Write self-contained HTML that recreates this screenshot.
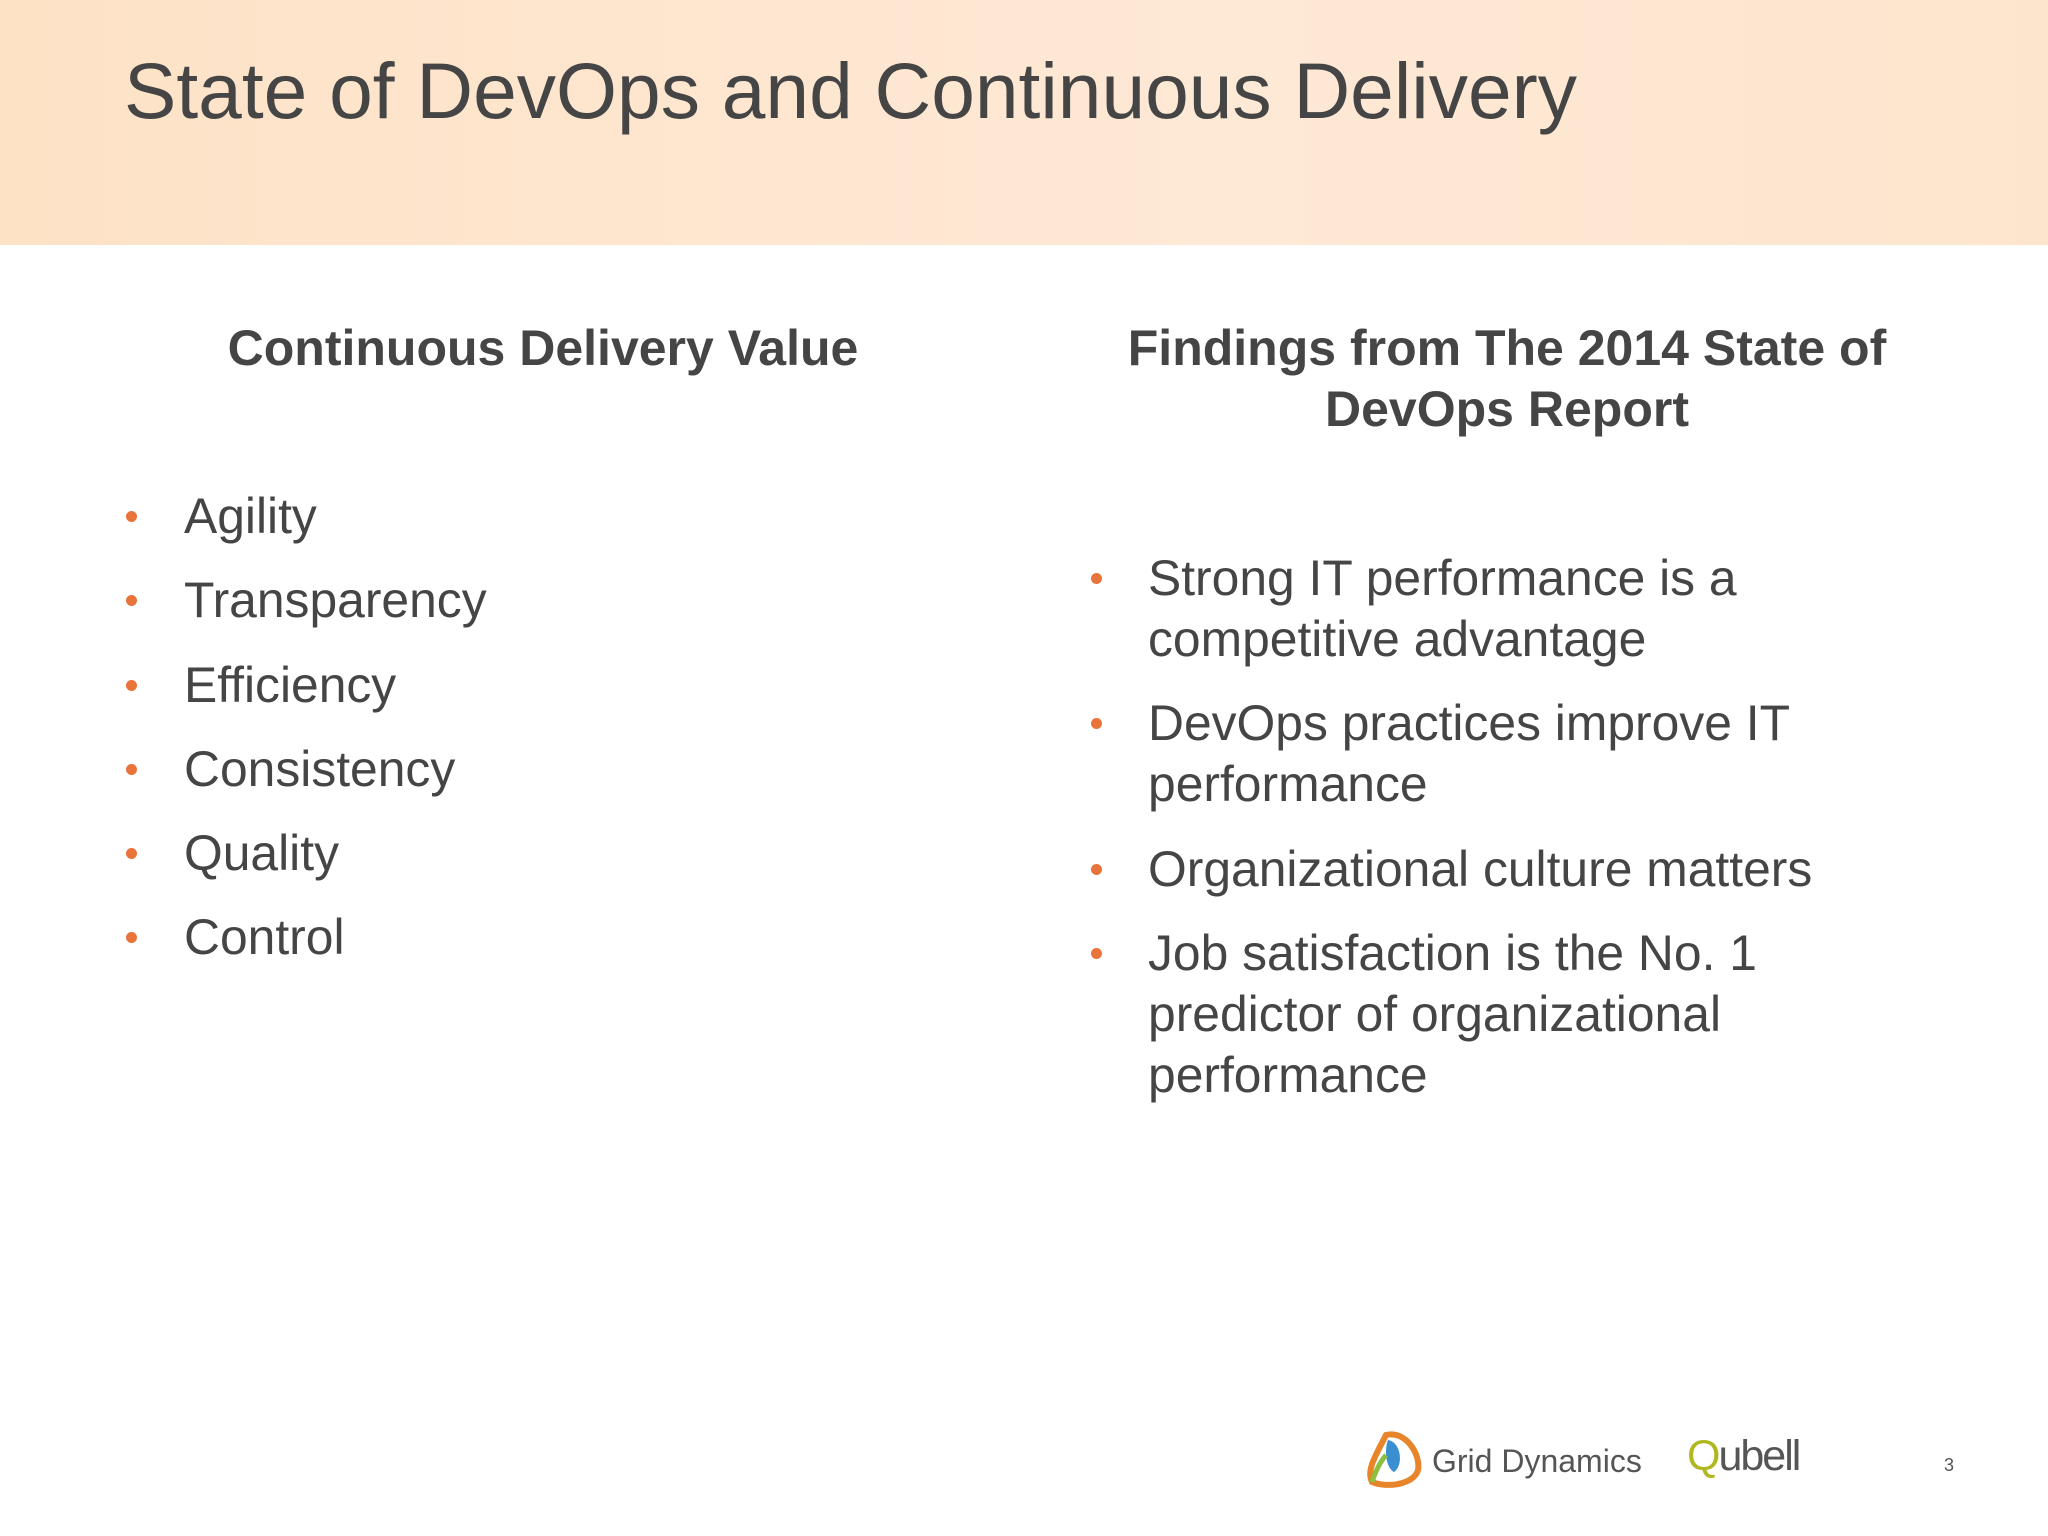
<!DOCTYPE html>
<html><head><meta charset="utf-8"><style>
html,body{margin:0;padding:0}
body{width:2048px;height:1536px;position:relative;background:#fff;font-family:"Liberation Sans",Arial,sans-serif;color:#454545;overflow:hidden}
.band{position:absolute;left:0;top:0;width:2048px;height:245px;background:linear-gradient(90deg,#fde2c6,#fee9d6 60%,#fde5cd)}
.title{position:absolute;left:124px;top:41px;font-size:78.5px;line-height:100px;white-space:nowrap}
.h{position:absolute;font-weight:bold;font-size:50px;line-height:61px;text-align:center}
.t{position:absolute;font-size:49.8px;line-height:61px;white-space:nowrap}
.dot{position:absolute;width:11px;height:11px;border-radius:50%;background:#e8743b}
</style></head><body>
<div class="band"></div>
<div class="title">State of DevOps and Continuous Delivery</div>
<div class="h" style="left:143px;width:800px;top:318px">Continuous Delivery Value</div>
<div class="h" style="left:1007px;width:1000px;top:318px">Findings from The 2014 State of<br>DevOps Report</div>

<div>
<div class="dot" style="left:126px;top:511px"></div><div class="t" style="left:184px;top:486px">Agility</div>
<div class="dot" style="left:126px;top:595px"></div><div class="t" style="left:184px;top:570px">Transparency</div>
<div class="dot" style="left:126px;top:680px"></div><div class="t" style="left:184px;top:655px">Efficiency</div>
<div class="dot" style="left:126px;top:764px"></div><div class="t" style="left:184px;top:739px">Consistency</div>
<div class="dot" style="left:126px;top:848px"></div><div class="t" style="left:184px;top:823px">Quality</div>
<div class="dot" style="left:126px;top:932px"></div><div class="t" style="left:184px;top:907px">Control</div>
</div>

<div>
<div class="dot" style="left:1091px;top:573px"></div><div class="t" style="left:1148px;top:548px">Strong IT performance is a<br>competitive advantage</div>
<div class="dot" style="left:1091px;top:718px"></div><div class="t" style="left:1148px;top:693px">DevOps practices improve IT<br>performance</div>
<div class="dot" style="left:1091px;top:864px"></div><div class="t" style="left:1148px;top:839px">Organizational culture matters</div>
<div class="dot" style="left:1091px;top:948px"></div><div class="t" style="left:1148px;top:923px">Job satisfaction is the No. 1<br>predictor of organizational<br>performance</div>
</div>

<svg style="position:absolute;left:1366px;top:1430px" width="60" height="60">
<path d="M20 5 C40 0 55 25 52 40 C48 55 20 58 6 52 C0 40 10 25 20 5 Z" fill="none" stroke="#e8842a" stroke-width="6"/>
<path d="M22 10 C35 12 38 35 28 42 C20 38 18 20 22 10 Z" fill="#3a8fd0"/>
<path d="M6 52 C10 40 14 32 20 25" fill="none" stroke="#8cbf3f" stroke-width="5"/>
</svg>
<div style="position:absolute;left:1432px;top:1443px;font-size:32px;color:#555;white-space:nowrap">Grid Dynamics</div>
<div style="position:absolute;left:1687px;top:1432px;font-size:43px;color:#555;letter-spacing:-2px;white-space:nowrap"><span style="color:#b0b820">Q</span>ubell</div>
<div style="position:absolute;left:1944px;top:1455px;font-size:18px;color:#555">3</div>
</body></html>
